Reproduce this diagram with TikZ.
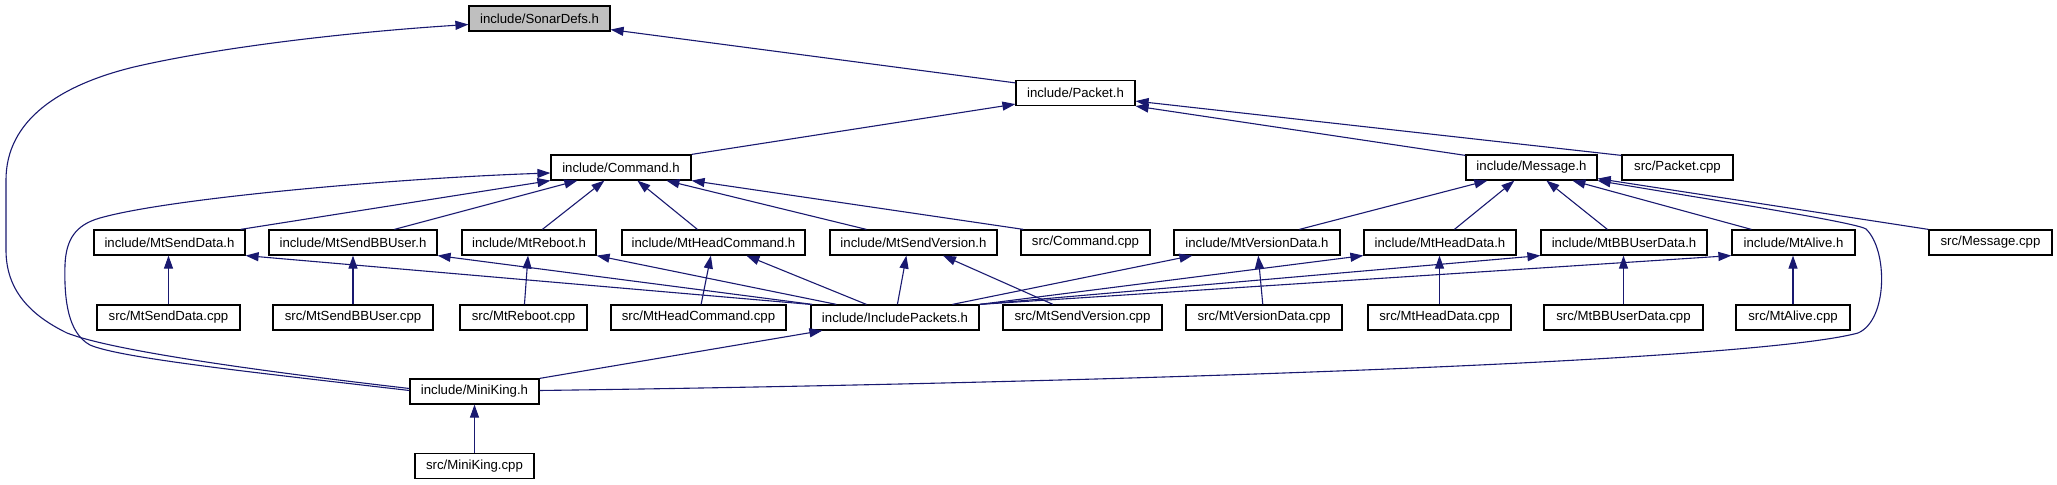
\documentclass[tikz,border=0pt]{standalone}
\usepackage{fontspec}
\setmainfont{Liberation Sans}
\usetikzlibrary{arrows.meta,calc}
\definecolor{edgec}{HTML}{191970}
\definecolor{rootfill}{HTML}{BFBFBF}
\tikzset{
  box/.style={draw=black, line width=0.6pt, fill=white, minimum height=12.5pt, inner sep=0pt,
    font=\fontsize{6.6pt}{7.5pt}\selectfont},
  dep/.style={draw=edgec, line width=0.55pt, -{Triangle[length=6.5pt,width=4.5pt]}},
}
\begin{document}
\begin{tikzpicture}[x=0.5pt,y=-0.5pt]
\useasboundingbox (0,0) rectangle (2057,485);
% row 0
\node[box, fill=rootfill, minimum width=70.5pt] (SonarDefs) at (539.5,18.5) {include/SonarDefs.h};
% row 1
\node[box, minimum width=59.5pt] (Packet) at (1075.5,93) {include/Packet.h};
% row 2
\node[box, minimum width=70pt] (Command) at (621,167.5) {include/Command.h};
\node[box, minimum width=65.5pt] (Message) at (1531.5,167.5) {include/Message.h};
\node[box, minimum width=55.5pt] (PacketCpp) at (1677.5,167.5) {src/Packet.cpp};
% row 3
\node[box, minimum width=75.5pt] (MtSendData) at (169.5,242.5) {include/MtSendData.h};
\node[box, minimum width=84pt] (MtSendBBUser) at (353,242.5) {include/MtSendBBUser.h};
\node[box, minimum width=67pt] (MtReboot) at (529,242.5) {include/MtReboot.h};
\node[box, minimum width=91.5pt] (MtHeadCommand) at (713.5,242.5) {include/MtHeadCommand.h};
\node[box, minimum width=83.5pt] (MtSendVersion) at (913.5,242.5) {include/MtSendVersion.h};
\node[box, minimum width=64.5pt] (CommandCpp) at (1085.5,242.5) {src/Command.cpp};
\node[box, minimum width=83pt] (MtVersionData) at (1257,242.5) {include/MtVersionData.h};
\node[box, minimum width=76pt] (MtHeadData) at (1440,242.5) {include/MtHeadData.h};
\node[box, minimum width=83pt] (MtBBUserData) at (1624,242.5) {include/MtBBUserData.h};
\node[box, minimum width=61.5pt] (MtAlive) at (1793.5,242.5) {include/MtAlive.h};
\node[box, minimum width=61.5pt] (MessageCpp) at (1990.5,242.5) {src/Message.cpp};
% row 4
\node[box, minimum width=71.5pt] (MtSendDataCpp) at (168.5,317.5) {src/MtSendData.cpp};
\node[box, minimum width=80pt] (MtSendBBUserCpp) at (353,317.5) {src/MtSendBBUser.cpp};
\node[box, minimum width=63.5pt] (MtRebootCpp) at (523.5,317.5) {src/MtReboot.cpp};
\node[box, minimum width=87.5pt] (MtHeadCommandCpp) at (698.5,317.5) {src/MtHeadCommand.cpp};
\node[box, minimum width=84pt] (IncludePackets) at (895,317.5) {include/IncludePackets.h};
\node[box, minimum width=79.5pt] (MtSendVersionCpp) at (1082.5,317.5) {src/MtSendVersion.cpp};
\node[box, minimum width=78pt] (MtVersionDataCpp) at (1264,317.5) {src/MtVersionData.cpp};
\node[box, minimum width=71.5pt] (MtHeadDataCpp) at (1439.5,317.5) {src/MtHeadData.cpp};
\node[box, minimum width=79.5pt] (MtBBUserDataCpp) at (1623.5,317.5) {src/MtBBUserData.cpp};
\node[box, minimum width=57pt] (MtAliveCpp) at (1793,317.5) {src/MtAlive.cpp};
% row 5, 6
\node[box, minimum width=64.5pt] (MiniKing) at (474.5,391.5) {include/MiniKing.h};
\node[box, minimum width=59.5pt] (MiniKingCpp) at (474.5,466) {src/MiniKing.cpp};

% long curves from MiniKing.h
\draw[dep] ($(MiniKing.west)+(0,-3)$) .. controls (250,370) and (110,350) .. (67,333)
  .. controls (30,315) and (6,290) .. (6,250) -- (6,180)
  .. controls (6,120) and (60,85) .. (134,67)
  .. controls (220,47) and (350,32) .. ($(SonarDefs.west)+(0,6)$);
\draw[dep] ($(MiniKing.west)+(0,-1)$) .. controls (250,372) and (120,358) .. (90,345)
  .. controls (68,333) and (64,300) .. (65,265)
  .. controls (66,240) and (75,225) .. (100,218)
  .. controls (170,198) and (400,178) .. ($(Command.west)+(0,5.5)$);
\draw[dep] ($(MiniKing.east)+(0,-1)$) .. controls (1100,383) and (1750,362) .. (1858,333)
  .. controls (1888,320) and (1888,250) .. (1866,229)
  .. controls (1855,222) and (1700,198) .. (Message.south east);
\draw[dep] (MiniKing.north east) -- ($(IncludePackets.south west)+(12,0)$);
\draw[dep] (MiniKingCpp) -- (MiniKing);

% upper part
\draw[dep] ($(Packet.north west)+(0,3)$) -- ($(SonarDefs.south east)+(0,-2)$);
\draw[dep] (Command.north east) -- ($(Packet.south west)+(0,-2)$);
\draw[dep] ($(Message.north west)+(0,1)$) -- (Packet.south east);
\draw[dep] ($(PacketCpp.north west)+(0,1)$) -- ($(Packet.south east)+(0,-5)$);

% children of Command.h
\draw[dep] ($(MtSendData.north east)+(-5,0)$) -- (Command.south west);
\draw[dep] ($(MtSendBBUser.north west)+(126,0)$) -- ($(Command.south west)+(27,0)$);
\draw[dep] ($(MtReboot.north west)+(81,0)$) -- ($(Command.south west)+(54,0)$);
\draw[dep] ($(MtHeadCommand.north west)+(76,0)$) -- ($(Command.south west)+(87,0)$);
\draw[dep] ($(MtSendVersion.north west)+(37,0)$) -- ($(Command.south west)+(116,0)$);
\draw[dep] ($(CommandCpp.north west)+(3,0)$) -- (Command.south east);

% children of Message.h
\draw[dep] ($(MtVersionData.north west)+(126,0)$) -- ($(Message.south west)+(22,0)$);
\draw[dep] ($(MtHeadData.north west)+(91,0)$) -- ($(Message.south west)+(49,0)$);
\draw[dep] ($(MtBBUserData.north west)+(67,0)$) -- ($(Message.south west)+(81,0)$);
\draw[dep] ($(MtAlive.north west)+(20,0)$) -- ($(Message.south west)+(107,0)$);
\draw[dep] (MessageCpp.north west) -- ($(Message.south east)+(0,-2)$);

% IncludePackets.h to headers
\draw[dep] (IncludePackets.north west) -- (MtSendData.south east);
\draw[dep] ($(IncludePackets.north west)+(2,0)$) -- (MtSendBBUser.south east);
\draw[dep] ($(IncludePackets.north west)+(26,0)$) -- (MtReboot.south east);
\draw[dep] ($(IncludePackets.north west)+(56,0)$) -- ($(MtHeadCommand.south west)+(125,0)$);
\draw[dep] ($(IncludePackets.north west)+(87,0)$) -- ($(MtSendVersion.south west)+(77,0)$);
\draw[dep] ($(IncludePackets.north west)+(142,0)$) -- ($(MtVersionData.south west)+(19,0)$);
\draw[dep] (IncludePackets.north east) -- (MtHeadData.south west);
\draw[dep] (IncludePackets.north east) -- (MtBBUserData.south west);
\draw[dep] (IncludePackets.north east) -- (MtAlive.south west);

% sources to headers
\draw[dep] (MtSendDataCpp.north) -- (MtSendDataCpp.north |- MtSendData.south);
\draw[dep] (MtSendBBUserCpp) -- (MtSendBBUser);
\draw[dep] (MtRebootCpp) -- (MtReboot);
\draw[dep] (MtHeadCommandCpp) -- (MtHeadCommand);
\draw[dep] (MtSendVersionCpp) -- (MtSendVersion);
\draw[dep] (MtVersionDataCpp) -- (MtVersionData);
\draw[dep] (MtHeadDataCpp.north) -- (MtHeadDataCpp.north |- MtHeadData.south);
\draw[dep] (MtBBUserDataCpp.north) -- (MtBBUserDataCpp.north |- MtBBUserData.south);
\draw[dep] (MtAliveCpp.north) -- (MtAliveCpp.north |- MtAlive.south);
\end{tikzpicture}
\end{document}
